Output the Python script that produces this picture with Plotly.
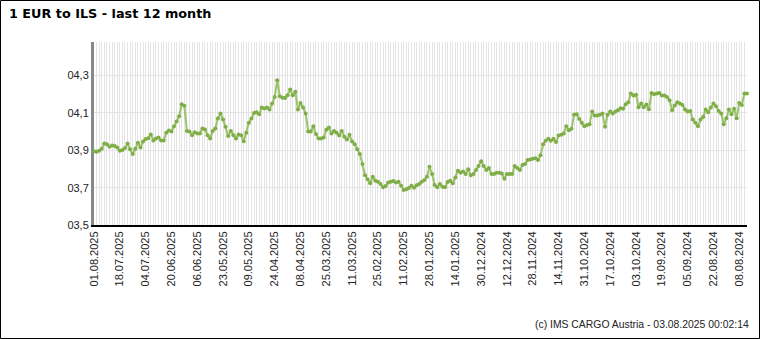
import plotly.graph_objects as go
import pandas as pd

title_text = "1 EUR to ILS - last 12 month"
footer_text = "(c) IMS CARGO Austria - 03.08.2025 00:02:14"

# TARGET business days (newest first)
target_holidays = ["2024-12-25", "2024-12-26", "2025-01-01",
                   "2025-04-18", "2025-04-21", "2025-05-01"]
days = pd.bdate_range("2024-08-05", "2025-08-01", freq="C", holidays=target_holidays)
dates = [d.strftime("%d.%m.%Y") for d in days[::-1]]

eur_ils = [
    3.895, 3.892, 3.898, 3.908, 3.937, 3.933, 3.919, 3.926, 3.923, 3.915,
    3.898, 3.901, 3.912, 3.937, 3.905, 3.880, 3.908, 3.940, 3.915, 3.947,
    3.960, 3.965, 3.985, 3.953, 3.963, 3.969, 3.953, 3.953, 3.994, 4.006,
    4.001, 4.029, 4.054, 4.083, 4.147, 4.138, 4.004, 4.001, 3.981, 3.997,
    3.990, 3.990, 4.017, 4.012, 3.981, 3.963, 4.004, 4.017, 4.070, 4.097,
    4.065, 4.026, 3.976, 4.004, 3.981, 3.963, 3.985, 3.981, 3.949, 3.994,
    4.047, 4.070, 4.100, 4.104, 4.093, 4.129, 4.124, 4.129, 4.118, 4.150,
    4.186, 4.275, 4.189, 4.182, 4.180, 4.195, 4.225, 4.195, 4.214, 4.118,
    4.154, 4.129, 4.097, 4.001, 4.001, 4.029, 3.987, 3.963, 3.963, 3.969,
    4.010, 4.022, 3.990, 4.004, 3.994, 3.979, 4.004, 3.972, 3.958, 3.983,
    3.947, 3.933, 3.905, 3.880, 3.826, 3.766, 3.745, 3.723, 3.759, 3.737,
    3.732, 3.720, 3.702, 3.709, 3.727, 3.732, 3.735, 3.727, 3.732, 3.710,
    3.688, 3.691, 3.698, 3.710, 3.700, 3.713, 3.720, 3.732, 3.741, 3.759,
    3.812, 3.773, 3.714, 3.702, 3.720, 3.705, 3.702, 3.730, 3.737, 3.723,
    3.755, 3.791, 3.780, 3.787, 3.773, 3.798, 3.766, 3.773, 3.794, 3.816,
    3.841, 3.816, 3.794, 3.805, 3.773, 3.773, 3.780, 3.780, 3.776, 3.748,
    3.773, 3.773, 3.773, 3.816, 3.805, 3.794, 3.821, 3.826, 3.848, 3.851,
    3.855, 3.858, 3.848, 3.873, 3.933, 3.951, 3.962, 3.951, 3.962, 3.944,
    3.979, 3.983, 3.990, 4.029, 4.008, 4.015, 4.090, 4.093, 4.068, 4.047,
    4.029, 4.036, 4.040, 4.108, 4.086, 4.086, 4.090, 4.097, 4.026, 4.090,
    4.108, 4.097, 4.108, 4.115, 4.125, 4.122, 4.147, 4.157, 4.204, 4.193,
    4.197, 4.130, 4.150, 4.130, 4.145, 4.120, 4.207, 4.200, 4.204, 4.207,
    4.193, 4.193, 4.186, 4.168, 4.115, 4.140, 4.157, 4.150, 4.143, 4.118,
    4.108, 4.111, 4.065, 4.047, 4.029, 4.065, 4.079, 4.118, 4.104, 4.129,
    4.150, 4.136, 4.111, 4.097, 4.040, 4.072, 4.118, 4.093, 4.122, 4.072,
    4.154, 4.143, 4.204, 4.204,
]

y_ticks = [3.5, 3.7, 3.9, 4.1, 4.3]
y_tick_labels = ["03,5", "03,7", "03,9", "04,1", "04,3"]
label_step = 10

n = min(len(dates), len(eur_ils))
dates = dates[:n]
eur_ils = eur_ils[:n]
pos = list(range(n))
x_tick_text = [d if i % label_step == 0 else "" for i, d in enumerate(dates)]

W, H = 760, 339
L, R, T, B = 94, 13, 42, 114
PW, PH = W - L - R, H - T - B

fig = go.Figure()
fig.add_trace(go.Scatter(
    x=pos, y=eur_ils, mode="lines+markers",
    line=dict(color="#9cc46b", width=2),
    marker=dict(color="#7fae47", size=4),
    cliponaxis=False, hoverinfo="skip", showlegend=False,
))

tick_font = dict(family="Liberation Sans, Arial, sans-serif", size=11, color="#222222")
footer_font = dict(family="Liberation Sans, Arial, sans-serif", size=10.4, color="#222222")

fig.update_layout(
    width=W, height=H,
    margin=dict(l=L, r=R, t=T, b=B, pad=0),
    paper_bgcolor="white", plot_bgcolor="white",
    title=dict(text="<b>" + title_text + "</b>", x=9 / W, xanchor="left",
               y=1 - 9 / H, yanchor="top",
               font=dict(family="DejaVu Sans, Verdana, sans-serif", size=12.8, color="black")),
    xaxis=dict(range=[0, n - 1], tickmode="array", tickvals=pos, ticktext=x_tick_text,
               tickangle=-90, showgrid=True, gridcolor="#e4e4e4", gridwidth=1,
               showline=True, linecolor="black", linewidth=2, zeroline=False,
               ticks="", tickfont=tick_font, layer="below traces"),
    yaxis=dict(range=[3.5, 4.48], tickmode="array", tickvals=y_ticks, ticktext=y_tick_labels,
               showgrid=True, gridcolor="#e4e4e4", gridwidth=1,
               showline=True, linecolor="#888888", linewidth=3, zeroline=False,
               ticks="", tickfont=tick_font, layer="below traces"),
    annotations=[dict(text=footer_text, xref="paper", yref="paper",
                      x=(751 - L) / PW, xanchor="right",
                      y=(H - B - 324) / PH, yanchor="middle", showarrow=False,
                      font=footer_font)],
    shapes=[dict(type="rect", xref="paper", yref="paper",
                 x0=(0.5 - L) / PW, x1=(W - 0.5 - L) / PW,
                 y0=(H - B - (H - 0.5)) / PH, y1=(H - B - 0.5) / PH,
                 line=dict(color="black", width=1), layer="above")],
)

fig.write_html("out.html")
